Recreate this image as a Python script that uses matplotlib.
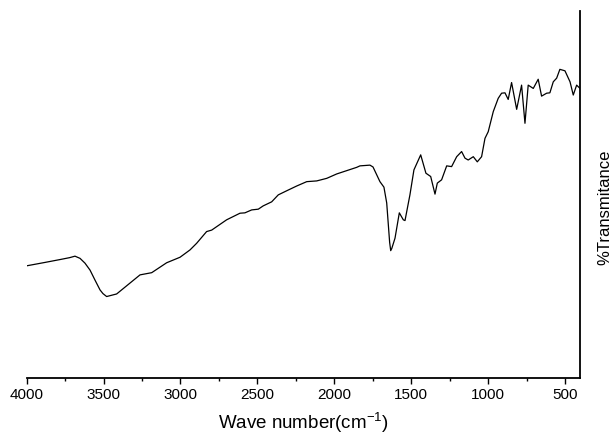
import matplotlib
matplotlib.use("Agg")
import matplotlib.pyplot as plt
from matplotlib.ticker import MultipleLocator

plt.rcParams['font.family'] = ['Liberation Sans', 'DejaVu Sans']

wavenumber = [3996, 3880, 3780, 3720, 3686, 3653, 3621, 3588, 3556, 3523,
              3504, 3480, 3415, 3263, 3187, 3090,
              3003, 2938, 2895, 2830, 2797, 2700, 2613, 2581, 2537, 2494,
              2462, 2407, 2364, 2310, 2245, 2179, 2114, 2049, 1984, 1919,
              1854, 1833, 1768, 1748, 1703, 1677, 1659, 1640, 1633, 1626,
              1605, 1577,
              1551, 1540, 1508, 1482, 1438, 1404, 1373, 1345, 1330, 1302,
              1269, 1237, 1204, 1172, 1150, 1129, 1096, 1070, 1042, 1020,
              999, 966, 934, 912, 890, 869, 847, 814, 782, 760,
              739, 706, 674, 652, 619, 598, 576, 554, 533, 500,
              467, 446, 424, 402]
transmittance = [30.6, 31.5, 32.3, 32.8, 33.2, 32.6, 31.3, 29.4, 26.7, 24.0,
                 23.0, 22.2, 22.9, 28.1, 28.7, 31.4,
                 32.9, 34.9, 36.7, 39.9, 40.3, 43.1, 44.9, 45.0, 45.8, 46.0,
                 46.9, 48.0, 49.9, 51.0, 52.3, 53.5, 53.7, 54.4, 55.6, 56.5,
                 57.4, 57.8, 58.0, 57.5, 53.5, 52.0, 47.7, 37.0, 34.7, 35.3,
                 38.1, 45.0,
                 43.1, 42.9, 49.9, 56.7, 60.8, 55.8, 54.9, 50.1, 53.1, 54.0,
                 57.8, 57.6, 60.3, 61.7, 59.9, 59.4, 60.3, 58.9, 60.3, 65.3,
                 67.1, 72.6, 76.2, 77.6, 77.7, 75.9, 80.5, 73.2, 79.8, 69.4,
                 79.8, 78.9, 81.4, 76.8, 77.6, 77.7, 80.7, 81.7, 84.1, 83.7,
                 80.7, 77.1, 79.8, 78.9]

fig = plt.figure(figsize=(6.16, 4.34), dpi=100)
ax = fig.add_axes([0.0433, 0.129, 0.8983, 0.8457])
ax.plot(wavenumber, transmittance, color='black', linewidth=0.9)

ax.set_xlim(4000, 402)
ax.set_ylim(0, 100)
ax.xaxis.set_major_locator(MultipleLocator(500))
ax.xaxis.set_minor_locator(MultipleLocator(250))
ax.tick_params(axis='x', which='major', direction='out', length=4.5, width=1.0,
               labelsize=11, pad=3)
ax.tick_params(axis='x', which='minor', direction='out', length=2.5, width=1.0)
ax.set_yticks([])
for s in ['left', 'top']:
    ax.spines[s].set_visible(False)
for s in ['bottom', 'right']:
    ax.spines[s].set_linewidth(1.3)

ax.set_xlabel('Wave number(cm$^{\\mathregular{-1}}$)', fontsize=13.5)
ax.xaxis.set_label_coords(0.5008, -0.088)
ax.yaxis.set_label_position('right')
ax.set_ylabel('%Transmitance', fontsize=12)
ax.yaxis.set_label_coords(1.0307, 0.466)

fig.savefig('out.png', dpi=100)
